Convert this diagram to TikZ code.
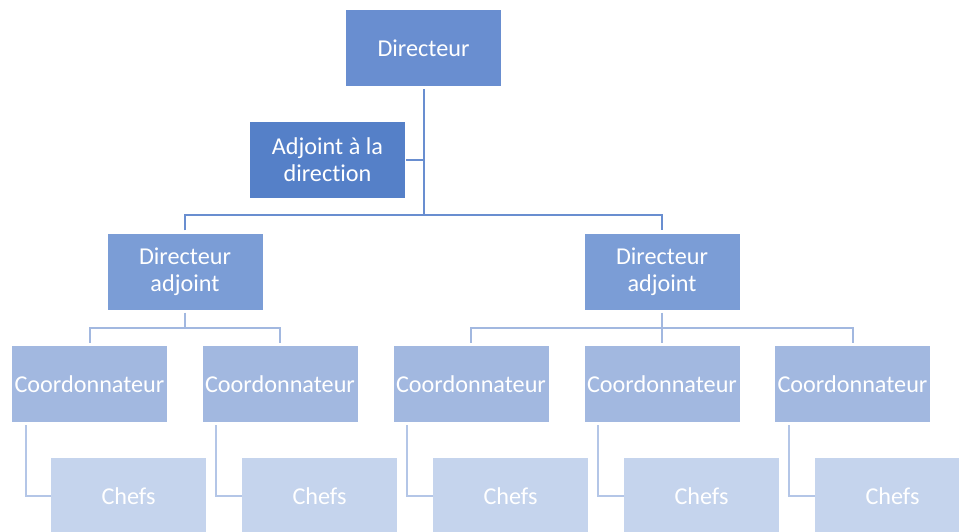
\documentclass[tikz,border=0pt]{standalone}
\usepackage{fontspec}
\setmainfont{Carlito}[Ligatures={NoCommon}]
\definecolor{dircol}{HTML}{698ED0}
\definecolor{adjcol}{HTML}{5580C8}
\definecolor{diracol}{HTML}{7B9DD6}
\definecolor{coordcol}{HTML}{A2B8E0}
\definecolor{chefcol}{HTML}{C5D4ED}
\definecolor{chefline}{HTML}{B4C6E7}
\begin{document}
\begin{tikzpicture}[x=1pt, y=-1pt,
    box/.style={rectangle, minimum width=155pt, minimum height=76pt, inner sep=0pt,
      align=center, text=white, font=\fontsize{24.2}{27}\selectfont},
    lvla/.style={draw=dircol, line width=2pt},
    lvlb/.style={draw=coordcol, line width=2pt},
    lvlc/.style={draw=chefline, line width=2pt}]
        \useasboundingbox (0, 0) rectangle (959, 531);
        \clip (0, 0) rectangle (959, 531);
        % node
        \node[box, fill=dircol] (dir) at (423.5, 48) {Directeur};
        \node[box, fill=adjcol] (adj) at (327.5, 159.5) {Adjoint à la\\direction};
        \node[box, fill=diracol] (dira) at (185, 271.5) {Directeur\\adjoint};
        \node[box, fill=diracol] (dirb) at (662, 271.5) {Directeur\\adjoint};
        \foreach \i/\x in {1/89.5, 2/280, 3/471, 4/662, 5/852.5}
          \node[box, fill=coordcol] (coord\i) at (\x, 384) {Coordonnateur};
        \foreach \i/\x in {1/128.5, 2/319.5, 3/510.5, 4/701.5, 5/892.5}
          \node[box, fill=chefcol] (chef\i) at (\x, 496) {Chefs};
        \coordinate (bar) at (423, 215);
        \coordinate (bara) at (185, 328);
        \coordinate (barb) at (662, 328);
        % lines
        \draw[lvla, shorten <=3pt] (dir.south) -- (dir.south |- bar);
        \draw[lvla, shorten <=1pt] (adj.east) -- (adj.east -| dir.south);
        \draw[lvla, shorten <=3pt, shorten >=3pt] (dira.north) |- (bar) -| (dirb.north);
        \draw[lvlb, shorten <=3pt] (dira.south) -- (bara);
        \draw[lvlb, shorten <=3pt, shorten >=3pt] (coord1.north) |- (bara) -| (coord2.north);
        \draw[lvlb, shorten <=3pt, shorten >=3pt] (dirb.south) -- (coord4.north);
        \draw[lvlb, shorten <=3pt, shorten >=3pt] (coord3.north) |- (barb) -| (coord5.north);
        \foreach \i in {1,...,5}
          \draw[lvlc, shorten <=3pt] ([xshift=14pt]coord\i.south west) |- (chef\i.west);
      \end{tikzpicture}
\end{document}
